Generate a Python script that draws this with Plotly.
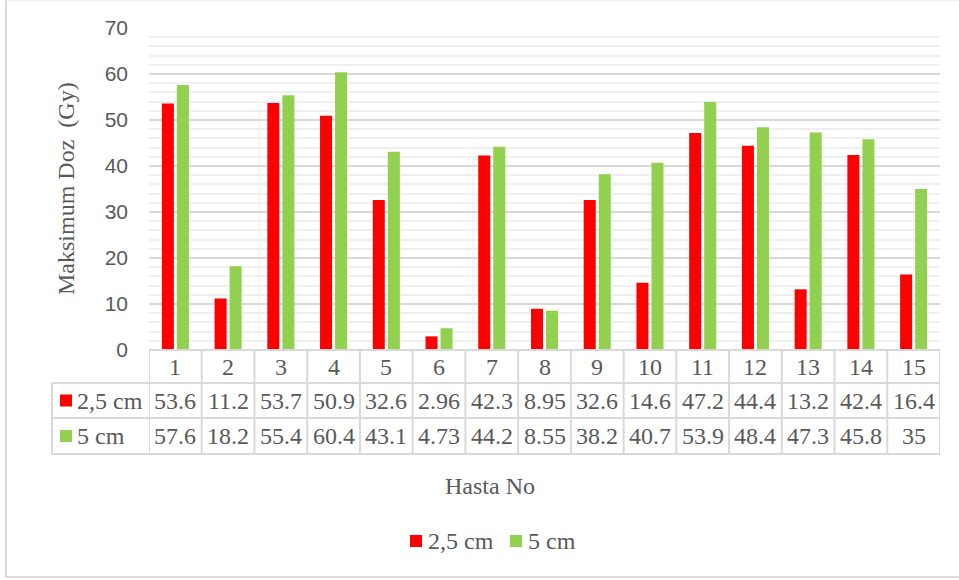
import plotly.graph_objects as go

# Patient numbers and maximum dose values (Gy) for the two distances
hasta_no = ["1", "2", "3", "4", "5", "6", "7", "8", "9", "10", "11", "12", "13", "14", "15"]
doz_2_5cm = [53.6, 11.2, 53.7, 50.9, 32.6, 2.96, 42.3, 8.95, 32.6, 14.6, 47.2, 44.4, 13.2, 42.4, 16.4]
doz_5cm = [57.6, 18.2, 55.4, 60.4, 43.1, 4.73, 44.2, 8.55, 38.2, 40.7, 53.9, 48.4, 47.3, 45.8, 35]
series_names = ["2,5 cm", "5 cm"]
series_colors = ["#ff0000", "#92d050"]
y_ticks = [0, 10, 20, 30, 40, 50, 60, 70]

W, H = 959, 580
px_left, px_right = 149, 940
px_top, px_bottom = 28, 350
row_edges = [350, 383, 418, 454]
label_left = 52

SERIF = "Liberation Serif, Times New Roman, serif"
SANS = "Liberation Sans, Arial, sans-serif"
TXT = "#595959"
GRID = "#d9d9d9"


def fx(px):
    return px / W


def fy(py):
    return 1 - py / H


fig = go.Figure()
for name, vals, col in zip(series_names, [doz_2_5cm, doz_5cm], series_colors):
    fig.add_trace(go.Bar(x=list(range(len(hasta_no))), y=vals, name=name,
                         marker=dict(color=col, line=dict(width=0))))

shapes = []
annotations = []


def hline(py, x0, x1, color=GRID, width=2):
    shapes.append(dict(type="line", xref="paper", yref="paper", x0=fx(x0), x1=fx(x1),
                       y0=fy(py), y1=fy(py), line=dict(color=color, width=width)))


def vline(px, y0, y1, color=GRID, width=2):
    shapes.append(dict(type="line", xref="paper", yref="paper", x0=fx(px), x1=fx(px),
                       y0=fy(y0), y1=fy(y1), line=dict(color=color, width=width)))


# Data table lines under the plot
for py in row_edges[1:]:
    hline(py, label_left, px_right)
hline(row_edges[0], px_left, px_right)
vline(label_left, row_edges[1], row_edges[3])
for i in range(len(hasta_no) + 1):
    shapes.append(dict(type="line", xref="x", yref="paper", x0=i - 0.5, x1=i - 0.5,
                       y0=fy(row_edges[0]), y1=fy(row_edges[3]), line=dict(color=GRID, width=2)))

# Chart area border (left, top and bottom edges)
vline(6, 0, 577)
hline(577, 6, W)
hline(0.5, 6, W, color="#eeeeee", width=1)

cell_font = dict(family=SERIF, size=24, color=TXT)


def row_mid(r):
    return fy((row_edges[r] + row_edges[r + 1]) / 2)


for i, cat in enumerate(hasta_no):
    annotations.append(dict(x=i, y=row_mid(0), xref="x", yref="paper", text=cat, showarrow=False,
                            font=cell_font, xanchor="center", yanchor="middle"))
    for r, vals in enumerate([doz_2_5cm, doz_5cm], start=1):
        annotations.append(dict(x=i, y=row_mid(r), xref="x", yref="paper", text=f"{vals[i]:g}",
                                showarrow=False, font=cell_font, xanchor="center", yanchor="middle"))


def key_square(x0, yc, col):
    shapes.append(dict(type="rect", xref="paper", yref="paper", x0=fx(x0), x1=fx(x0 + 12),
                       y0=fy(yc + 6), y1=fy(yc - 6), fillcolor=col, line=dict(width=0)))


# Series keys in the table
for r, (name, col) in enumerate(zip(series_names, series_colors), start=1):
    yc = (row_edges[r] + row_edges[r + 1]) / 2
    key_square(60, yc, col)
    annotations.append(dict(x=fx(75), y=row_mid(r), xref="paper", yref="paper", text=name,
                            showarrow=False, font=cell_font, xanchor="left", yanchor="middle"))

# Legend below the table
legend_y = 541
for x0, name, col in zip([410, 510], series_names, series_colors):
    key_square(x0, legend_y, col)
    annotations.append(dict(x=fx(x0 + 16), y=fy(legend_y), xref="paper", yref="paper", text=name,
                            showarrow=False, font=cell_font, xanchor="left", yanchor="middle"))

# Axis titles
annotations.append(dict(x=fx(66), y=fy(189), xref="paper", yref="paper", text="Maksimum Doz  (Gy)",
                        textangle=-90, showarrow=False, font=cell_font,
                        xanchor="center", yanchor="middle"))
annotations.append(dict(x=fx(490), y=fy(486), xref="paper", yref="paper", text="Hasta No",
                        showarrow=False, font=cell_font, xanchor="center", yanchor="middle"))

fig.update_layout(
    width=W, height=H,
    margin=dict(l=0, r=0, t=0, b=0, autoexpand=False),
    paper_bgcolor="white", plot_bgcolor="white",
    barmode="group", bargap=0.43, bargroupgap=0.2,
    showlegend=False,
    xaxis=dict(domain=[fx(px_left), fx(px_right)], showticklabels=False, showgrid=False,
               zeroline=False, ticks="", range=[-0.5, len(hasta_no) - 0.5], automargin=False),
    yaxis=dict(domain=[fy(px_bottom), fy(px_top)], range=[0, 70], tickvals=y_ticks,
               showgrid=True, gridcolor=GRID, gridwidth=2, zeroline=False, ticks="", automargin=False,
               tickfont=dict(family=SANS, size=21, color=TXT), ticklabelstandoff=20,
               minor=dict(dtick=2, showgrid=True, gridcolor="#f0f0f0", gridwidth=2)),
    shapes=shapes,
    annotations=annotations,
)

fig.write_html("out.html")
